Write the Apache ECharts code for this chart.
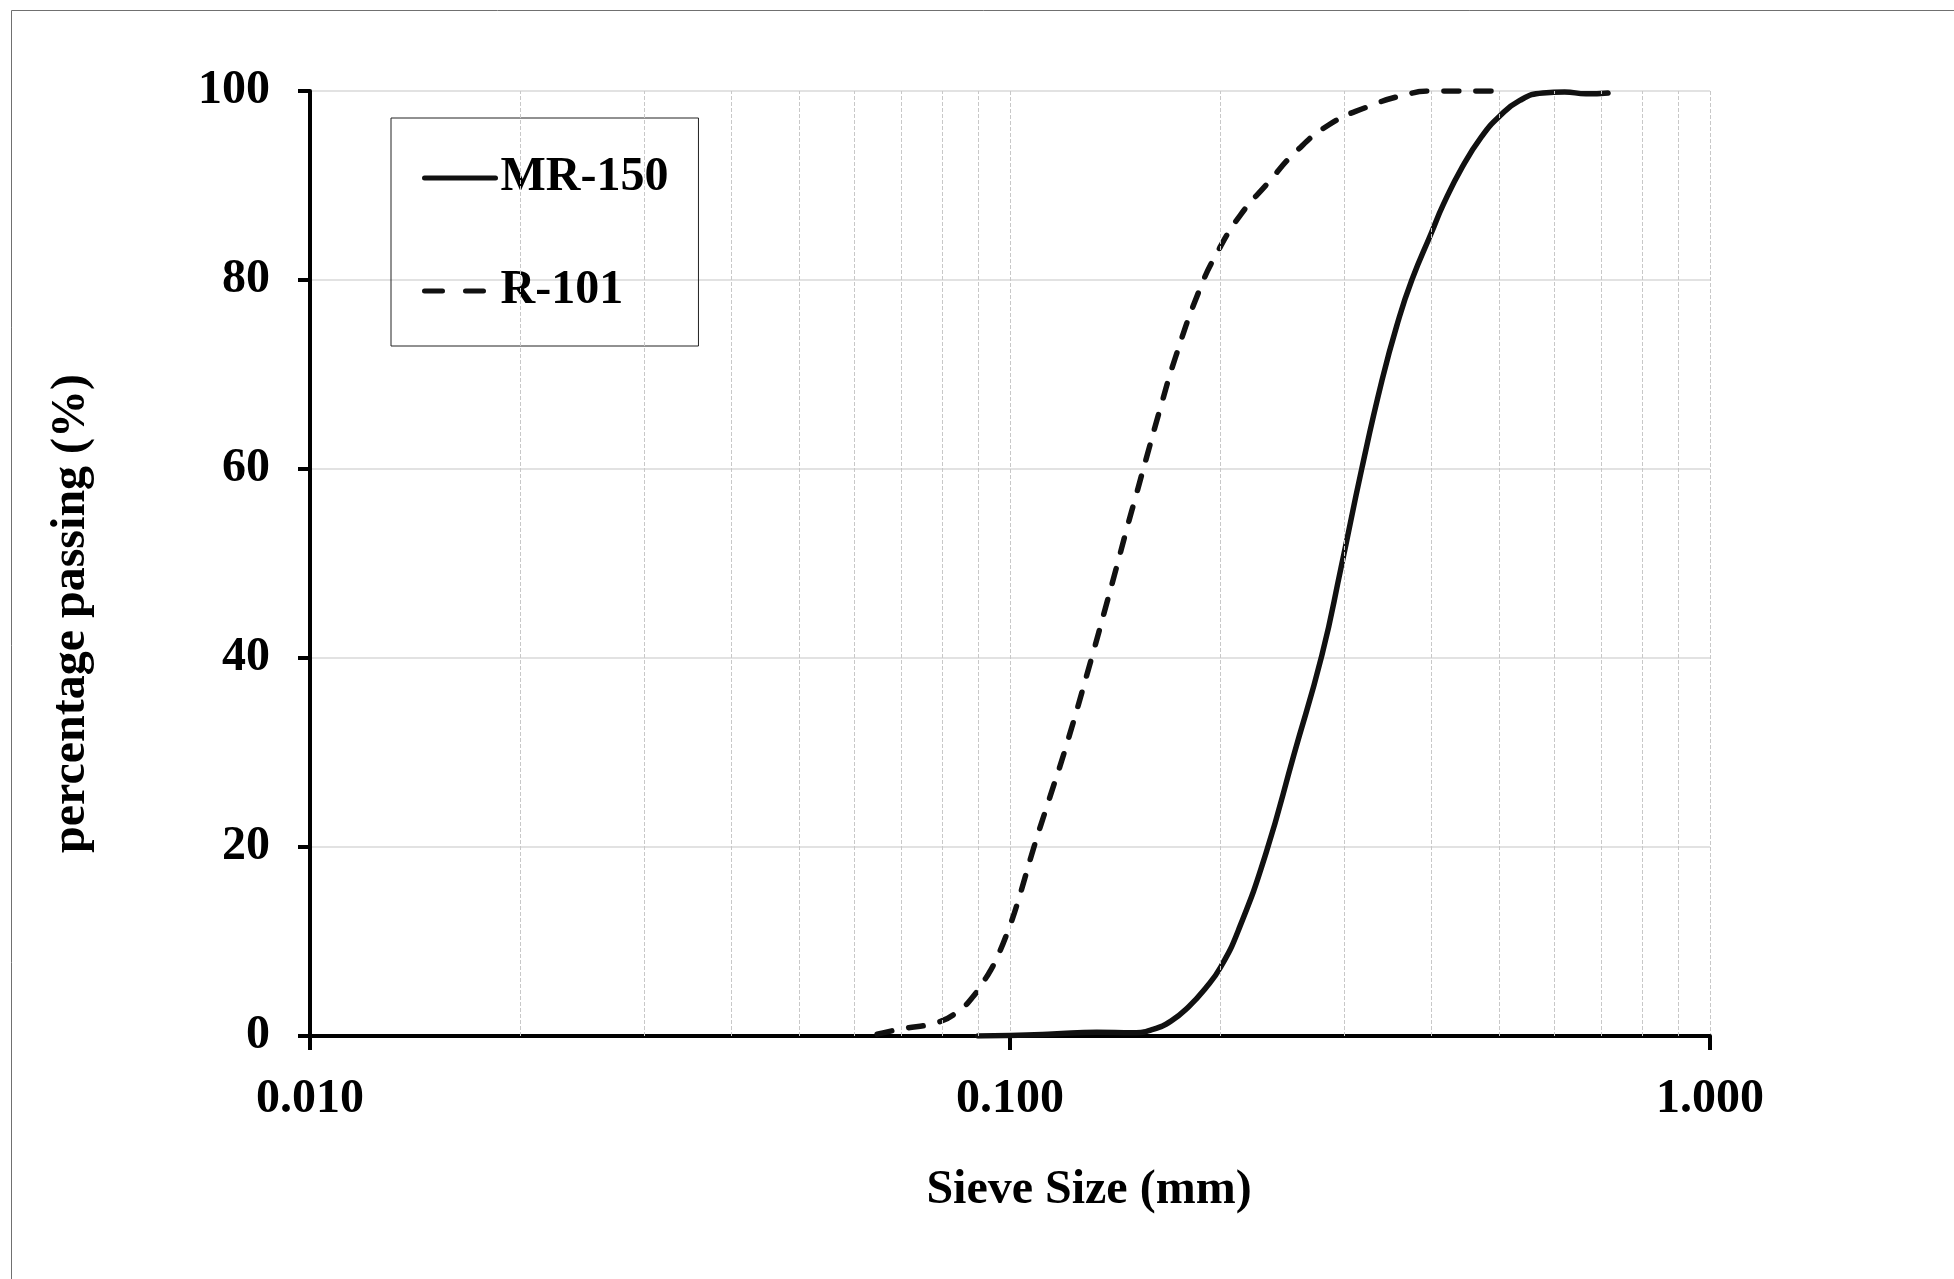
<!DOCTYPE html>
<html>
<head>
<meta charset="utf-8">
<script src="https://cdn.jsdelivr.net/npm/echarts@6/dist/echarts.min.js"></script>
<style>
html,body{margin:0;padding:0;background:#fff;}
#chart{width:1954px;height:1279px;}
</style>
</head>
<body>
<div id="chart"></div>
<script>
// ---- data ----
const mr150Size = [0.090, 0.100, 0.115, 0.133, 0.150, 0.160, 0.170, 0.180, 0.190, 0.200, 0.212, 0.232, 0.2545, 0.279, 0.297, 0.318, 0.340, 0.358, 0.375, 0.400, 0.416, 0.443, 0.472, 0.500, 0.535, 0.577, 0.620, 0.665, 0.715];
const mr150Pass = [0.0, 0.05, 0.2, 0.4, 0.35, 0.7, 1.6, 3.1, 5.0, 7.3, 11.2, 19.3, 29.8, 40.3, 49.5, 60.0, 69.4, 75.5, 80.0, 85.0, 88.0, 92.0, 95.2, 97.3, 99.0, 99.8, 99.9, 99.7, 99.8];
const r101Size = [0.0646, 0.0694, 0.0792, 0.0846, 0.0884, 0.0923, 0.0954, 0.100, 0.103, 0.1082, 0.1137, 0.1201, 0.1308, 0.137, 0.1416, 0.147, 0.1515, 0.1568, 0.1639, 0.1723, 0.1864, 0.198, 0.2135, 0.2332, 0.2563, 0.2852, 0.3235, 0.367, 0.400, 0.500];
const r101Pass = [0.2, 0.7, 1.5, 2.7, 4.1, 6.1, 8.0, 11.7, 14.6, 20.0, 25.0, 30.5, 40.0, 45.4, 49.3, 53.8, 57.3, 61.3, 66.4, 71.8, 78.9, 83.0, 86.9, 90.2, 93.6, 96.4, 98.3, 99.6, 100.0, 100.0];
const minorGridSizes = [0.02, 0.03, 0.04, 0.05, 0.06, 0.07, 0.08, 0.09, 0.2, 0.3, 0.4, 0.5, 0.6, 0.7, 0.8, 0.9];
const seriesNames = ['MR-150', 'R-101'];
const xTitle = 'Sieve Size (mm)';
const yTitle = 'percentage passing (%)';

const pairs = (xs, ys) => xs.map((x, i) => [x, ys[i]]);
const FONT = 'Liberation Serif';
const FS = 48;

const chart = echarts.init(document.getElementById('chart'), null, {renderer: 'canvas'});
chart.setOption({
  backgroundColor: '#fff',
  animation: false,
  graphic: [{
    type: 'rect', silent: true, z: -10,
    shape: {x: 11.5, y: 10.5, width: 2100, height: 1400},
    style: {fill: 'none', stroke: '#707070', lineWidth: 1}
  }],
  grid: {left: 310, right: 244, top: 91, bottom: 243, containLabel: false},
  legend: {
    data: [
      {name: seriesNames[0]},
      {name: seriesNames[1], lineStyle: {type: [18, 23]}}
    ],
    orient: 'vertical',
    left: 391, top: 118,
    padding: [35, 30, 30, 31],
    itemWidth: 71, itemHeight: 12,
    itemGap: 63,
    borderColor: '#222', borderWidth: 1,
    itemStyle: {color: 'rgba(0,0,0,0)', borderWidth: 0, opacity: 0},
    lineStyle: {width: 5},
    textStyle: {fontFamily: FONT, fontWeight: 'bold', fontSize: FS, color: '#000', lineHeight: 50}
  },
  xAxis: {
    type: 'log', logBase: 10, min: 0.01, max: 1,
    name: xTitle, nameLocation: 'middle', nameGap: 131,
    nameTextStyle: {fontFamily: FONT, fontWeight: 'bold', fontSize: FS, color: '#000', padding: [0, 0, 0, 158]},
    axisLine: {show: true, onZero: false, lineStyle: {color: '#000', width: 4}},
    axisTick: {show: true, inside: false, length: 14, lineStyle: {color: '#000', width: 4}},
    axisLabel: {fontFamily: FONT, fontWeight: 'bold', fontSize: FS, color: '#000', margin: 40,
      formatter: v => Number(v).toFixed(3)},
    splitLine: {show: true, lineStyle: {color: '#c8c8c8', width: 1, type: 'dashed'}},
    minorTick: {show: false}, minorSplitLine: {show: false}
  },
  yAxis: {
    type: 'value', min: 0, max: 100, interval: 20,
    name: yTitle, nameLocation: 'middle', nameGap: 214, nameRotate: 90,
    nameTextStyle: {fontFamily: FONT, fontWeight: 'bold', fontSize: FS, color: '#000', padding: [0, 100, 0, 0]},
    axisLine: {show: true, lineStyle: {color: '#000', width: 4}},
    axisTick: {show: true, inside: false, length: 12, lineStyle: {color: '#000', width: 4}},
    axisLabel: {fontFamily: FONT, fontWeight: 'bold', fontSize: FS, color: '#000', margin: 40},
    splitLine: {show: true, lineStyle: {color: '#d9d9d9', width: 1.5, type: 'solid'}}
  },
  series: [
    {
      name: 'minor-grid', type: 'line', data: [], z: 1, silent: true,
      markLine: {
        silent: true, symbol: ['none', 'none'], label: {show: false}, animation: false,
        lineStyle: {color: '#c8c8c8', width: 1, type: 'dashed'},
        emphasis: {disabled: true},
        data: minorGridSizes.map(v => ({xAxis: v}))
      }
    },
    {
      name: seriesNames[0], type: 'line', data: pairs(mr150Size, mr150Pass),
      showSymbol: false, symbol: 'none', smooth: 0.5, z: 3,
      lineStyle: {color: '#111', width: 5.5, type: 'solid', cap: 'round'},
      itemStyle: {color: '#111'}
    },
    {
      name: seriesNames[1], type: 'line', data: pairs(r101Size, r101Pass),
      showSymbol: false, symbol: 'none', smooth: 0.5, z: 3,
      lineStyle: {color: '#111', width: 5.5, type: [15, 17], cap: 'round'},
      itemStyle: {color: '#111'}
    }
  ]
});
</script>
</body>
</html>
